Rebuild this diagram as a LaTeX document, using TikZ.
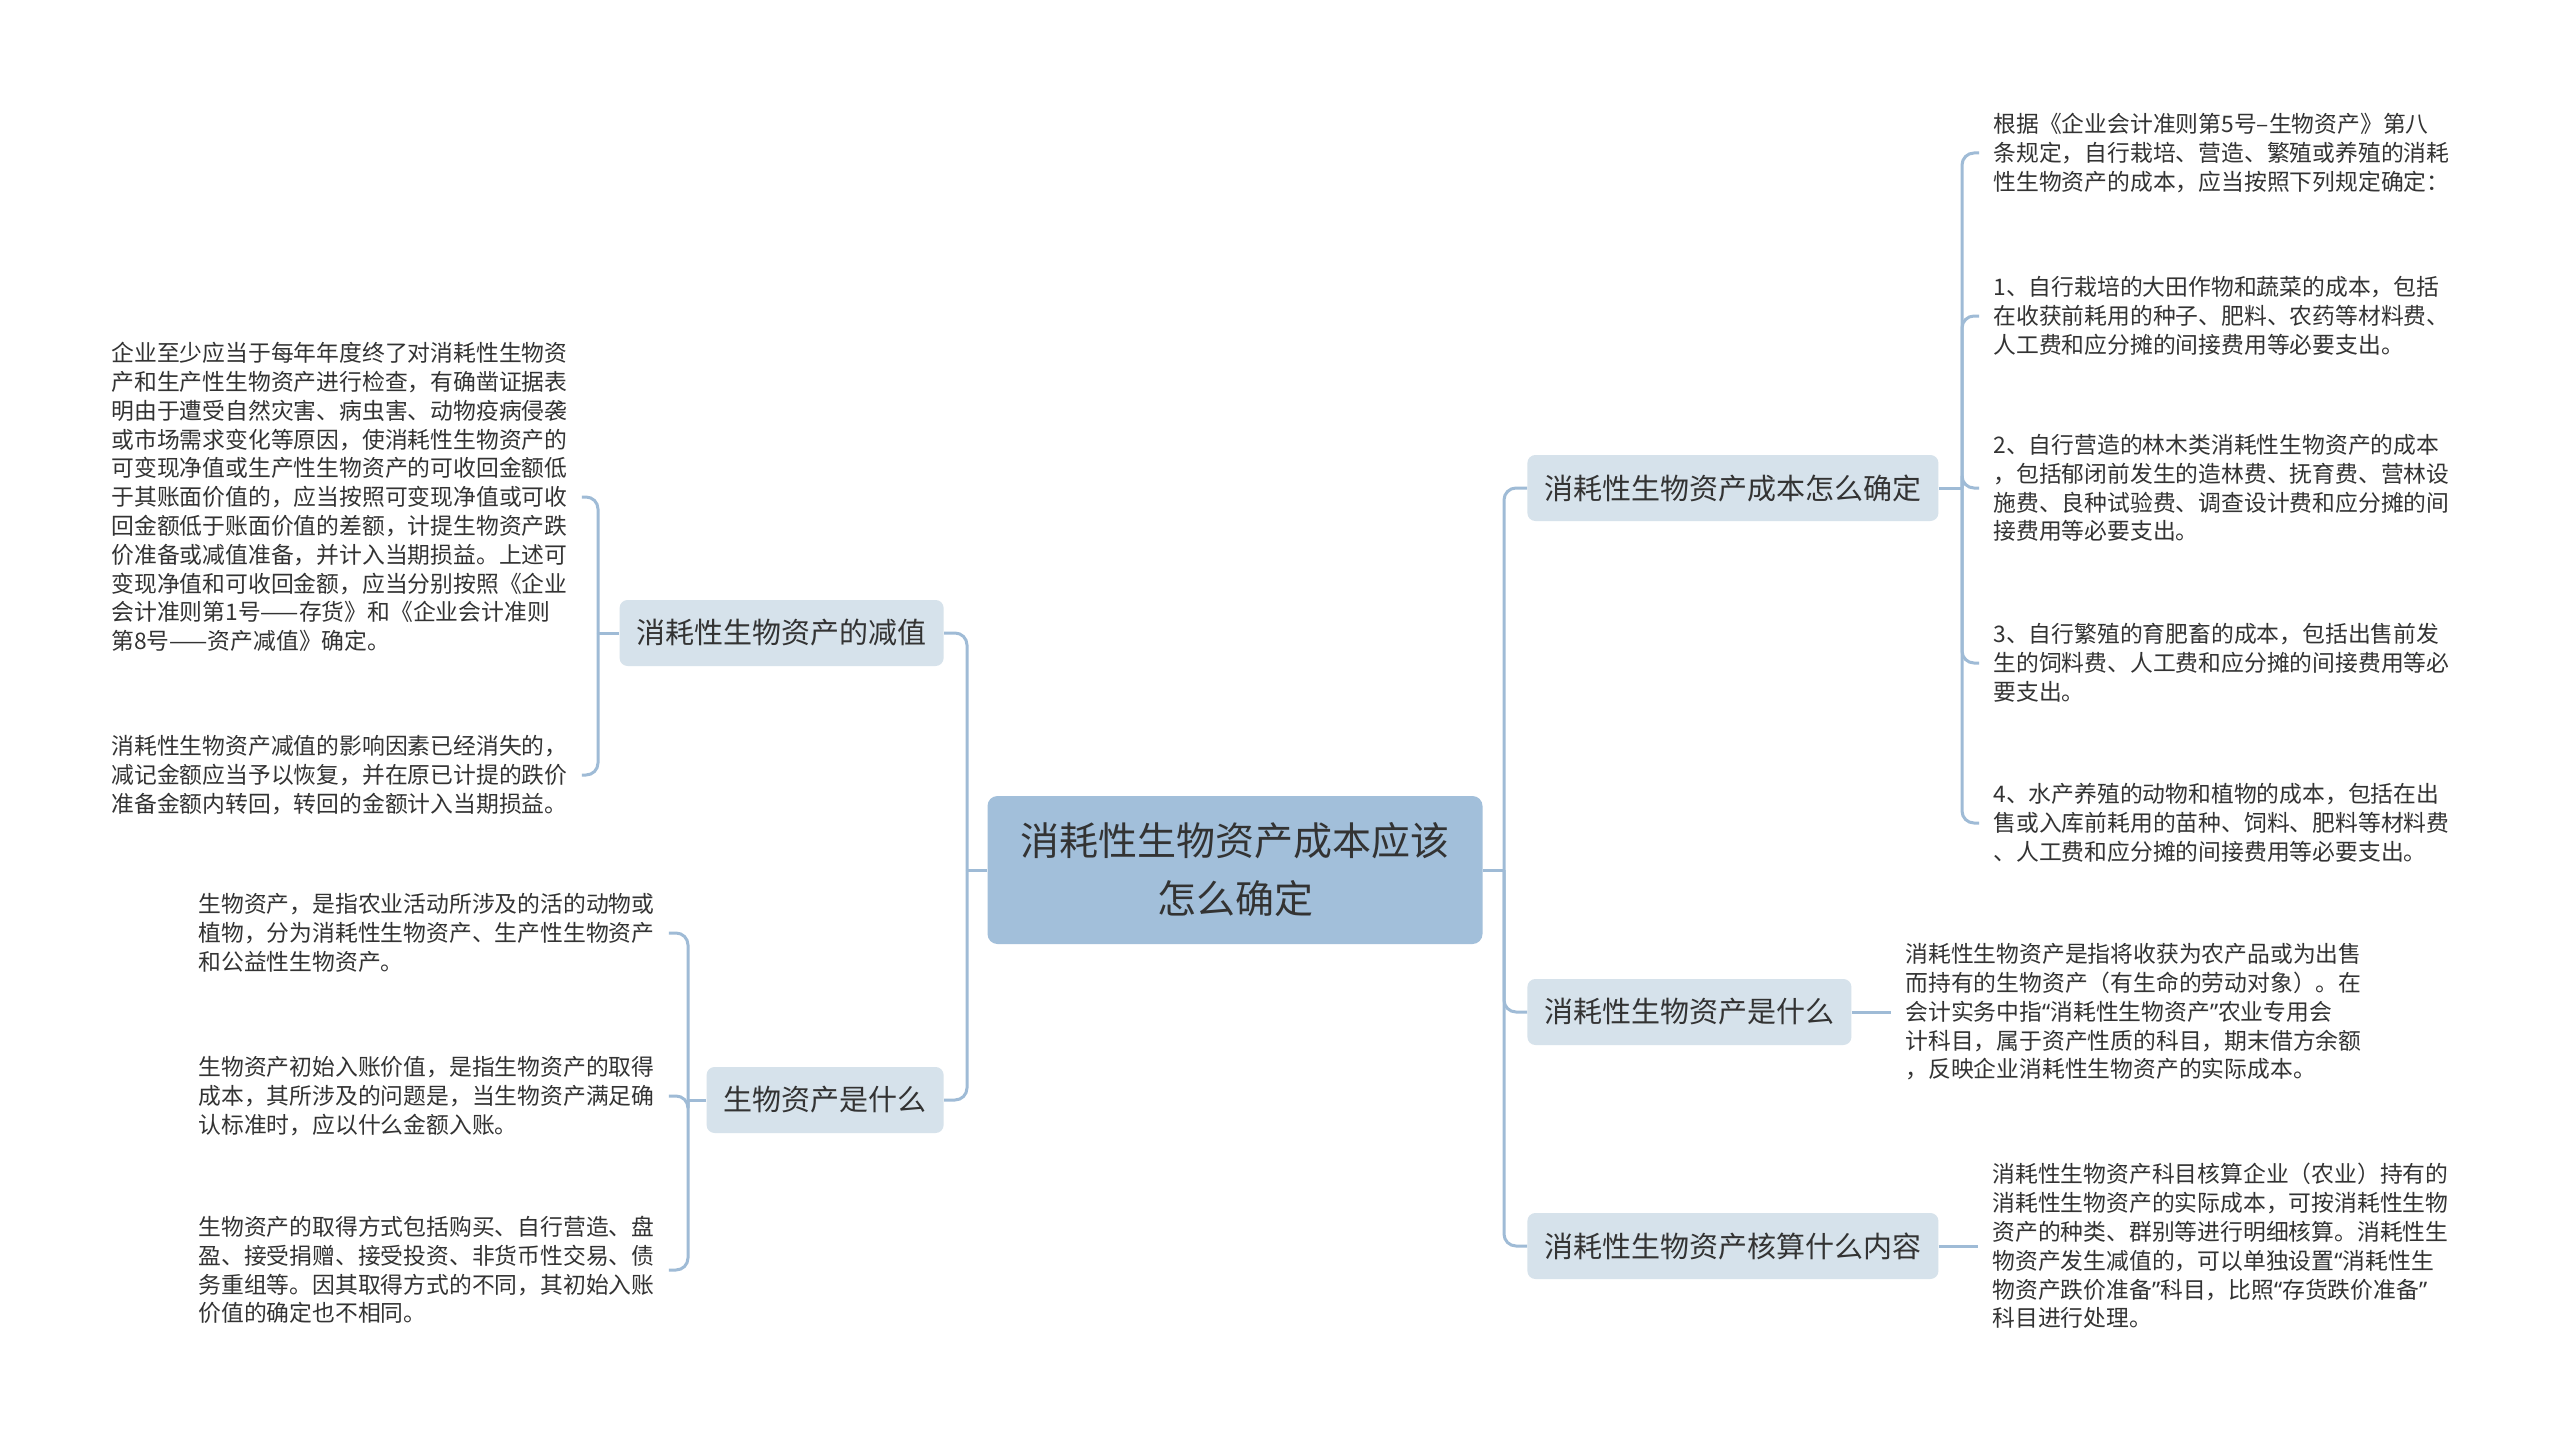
\documentclass[tikz,border=0pt]{standalone}
\usepackage{fontspec}
\setmainfont{Noto Sans CJK SC}
\newfontfamily\qtfont{Noto Sans}
\newcommand\oqt{{\qtfont“}}
\newcommand\cqt{{\qtfont”}}
\definecolor{rootfill}{HTML}{A2BFDA}
\definecolor{subfill}{HTML}{D6E2EB}
\definecolor{linkcol}{HTML}{9FBBD6}
\definecolor{inkcol}{HTML}{333333}
\begin{document}
\begin{tikzpicture}[x=0.5pt,y=-0.5pt,
  rootbox/.style={fill=rootfill,rounded corners=5pt,text=inkcol,align=center,minimum width=247.5pt,minimum height=74pt,font=\fontsize{19.5pt}{29pt}\selectfont},
  subbox/.style={fill=subfill,rounded corners=4pt,text=inkcol,inner xsep=8.5pt,minimum height=33pt,font=\fontsize{14.5pt}{17pt}\selectfont},
  txt/.style={text=inkcol,align=left,inner xsep=7pt,inner ysep=0pt,font=\fontsize{11.4pt}{14.4pt}\selectfont},
  link/.style={draw=linkcol,line width=1.5pt,rounded corners=6pt}]
        \fill[white] (0,0) rectangle (2560,1445);
        \useasboundingbox (0,0) rectangle (2560,1445);
        \node[rootbox] (root) at (1235,870) {消耗性生物资产成本应该\\怎么确定};
        \node[subbox,anchor=west] (cost) at (1527,488) {消耗性生物资产成本怎么确定};
        \node[subbox,anchor=west] (what) at (1527,1012) {消耗性生物资产是什么};
        \node[subbox,anchor=west] (acct) at (1527,1246) {消耗性生物资产核算什么内容};
        \node[subbox,anchor=east] (impair) at (944,633) {消耗性生物资产的减值};
        \node[subbox,anchor=east] (bio) at (944,1100) {生物资产是什么};
        \node[txt,anchor=west] (costA) at (1979,153) {根据《企业会计准则第5号–生物资产》第八\\条规定，自行栽培、营造、繁殖或养殖的消耗\\性生物资产的成本，应当按照下列规定确定：};
        \node[txt,anchor=west] (costB) at (1979,316) {1、自行栽培的大田作物和蔬菜的成本，包括\\在收获前耗用的种子、肥料、农药等材料费、\\人工费和应分摊的间接费用等必要支出。};
        \node[txt,anchor=west] (costC) at (1979,488) {2、自行营造的林木类消耗性生物资产的成本\\，包括郁闭前发生的造林费、抚育费、营林设\\施费、良种试验费、调查设计费和应分摊的间\\接费用等必要支出。};
        \node[txt,anchor=west] (costD) at (1979,663) {3、自行繁殖的育肥畜的成本，包括出售前发\\生的饲料费、人工费和应分摊的间接费用等必\\要支出。};
        \node[txt,anchor=west] (costE) at (1979,823) {4、水产养殖的动物和植物的成本，包括在出\\售或入库前耗用的苗种、饲料、肥料等材料费\\、人工费和应分摊的间接费用等必要支出。};
        \node[txt,anchor=west] (whatT) at (1891,1012) {消耗性生物资产是指将收获为农产品或为出售\\而持有的生物资产（有生命的劳动对象）。在\\会计实务中指\oqt 消耗性生物资产\cqt 农业专用会\\计科目，属于资产性质的科目，期末借方余额\\，反映企业消耗性生物资产的实际成本。};
        \node[txt,anchor=west] (acctT) at (1978,1246) {消耗性生物资产科目核算企业（农业）持有的\\消耗性生物资产的实际成本，可按消耗性生物\\资产的种类、群别等进行明细核算。消耗性生\\物资产发生减值的，可以单独设置\oqt 消耗性生\\物资产跌价准备\cqt 科目，比照\oqt 存货跌价准备\cqt\\科目进行处理。};
        \node[txt,anchor=west] (impA) at (97,497) {企业至少应当于每年年度终了对消耗性生物资\\产和生产性生物资产进行检查，有确凿证据表\\明由于遭受自然灾害、病虫害、动物疫病侵袭\\或市场需求变化等原因，使消耗性生物资产的\\可变现净值或生产性生物资产的可收回金额低\\于其账面价值的，应当按照可变现净值或可收\\回金额低于账面价值的差额，计提生物资产跌\\价准备或减值准备，并计入当期损益。上述可\\变现净值和可收回金额，应当分别按照《企业\\会计准则第1号——存货》和《企业会计准则\\第8号——资产减值》确定。};
        \node[txt,anchor=west] (impB) at (97,775) {消耗性生物资产减值的影响因素已经消失的，\\减记金额应当予以恢复，并在原已计提的跌价\\准备金额内转回，转回的金额计入当期损益。};
        \node[txt,anchor=west] (bioA) at (184,933) {生物资产，是指农业活动所涉及的活的动物或\\植物，分为消耗性生物资产、生产性生物资产\\和公益性生物资产。};
        \node[txt,anchor=west] (bioB) at (184,1096) {生物资产初始入账价值，是指生物资产的取得\\成本，其所涉及的问题是，当生物资产满足确\\认标准时，应以什么金额入账。};
        \node[txt,anchor=west] (bioC) at (184,1270) {生物资产的取得方式包括购买、自行营造、盘\\盈、接受捐赠、接受投资、非货币性交易、债\\务重组等。因其取得方式的不同，其初始入账\\价值的确定也不相同。};
        \coordinate (rj) at (1504,870);
        \coordinate (lj) at (967,870);
        \coordinate (cj) at (1962,488);
        \coordinate (ij) at (598,633);
        \coordinate (bj) at (688,1100);
        \draw[link] (root.east) -- (rj);
        \draw[link] (root.west) -- (lj);
        \foreach \n in {cost,what,acct} \draw[link] (rj) |- (\n.west);
        \foreach \n in {impair,bio} \draw[link] (lj) |- (\n.east);
        \draw[link] (cost.east) -- (cj);
        \foreach \n in {costA,costB,costC,costD,costE} \draw[link] (cj) |- (\n.west);
        \draw[link] (impair.west) -- (ij);
        \foreach \n in {impA,impB} \draw[link] (ij) |- (\n.east);
        \draw[link] (bio.west) -- (bj);
        \foreach \n in {bioA,bioB,bioC} \draw[link] (bj) |- (\n.east);
        \draw[link] (what.east) -- (whatT.west);
        \draw[link] (acct.east) -- (acctT.west);
      \end{tikzpicture}
\end{document}
